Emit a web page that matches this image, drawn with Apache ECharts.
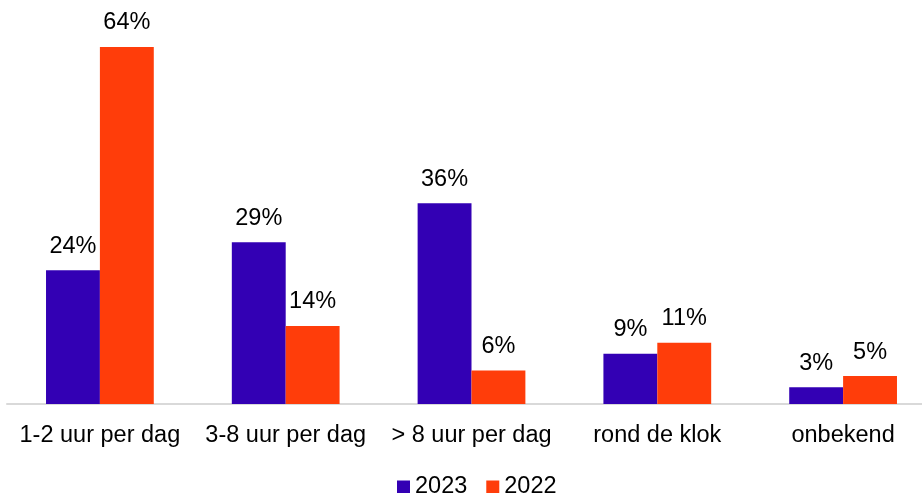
<!DOCTYPE html>
<html>
<head>
<meta charset="utf-8">
<script src="https://cdn.jsdelivr.net/npm/echarts@6/dist/echarts.min.js"></script>
<style>
  html, body { margin: 0; padding: 0; background: #fff; }
  #chart { width: 922px; height: 493px; }
</style>
</head>
<body>
<div id="chart"></div>
<script>
const categories = ['1-2 uur per dag', '3-8 uur per dag', '> 8 uur per dag', 'rond de klok', 'onbekend'];
const values2023 = [24, 29, 36, 9, 3];
const values2022 = [64, 14, 6, 11, 5];

const chart = echarts.init(document.getElementById('chart'), null, { renderer: 'canvas' });
const font = 'Liberation Sans, Arial, sans-serif';
const fs = 23.5;

const labelStyle = {
  show: true,
  position: 'top',
  distance: 12,
  formatter: '{c}%',
  fontFamily: font,
  fontSize: fs,
  color: '#000'
};

chart.setOption({
  animation: false,
  // plot area runs past the right edge of the canvas
  grid: { left: 7, width: 929, top: 47, height: 357, containLabel: false, outerBoundsMode: 'none' },
  legend: {
    data: ['2023', '2022'],
    left: 392,
    top: 470,
    itemWidth: 13,
    itemHeight: 13,
    itemGap: 19,
    icon: 'rect',
    textStyle: { fontFamily: font, fontSize: fs, color: '#000' }
  },
  xAxis: {
    type: 'category',
    data: categories,
    axisLine: { show: true, lineStyle: { color: '#d9d9d9', width: 2 } },
    axisTick: { show: false },
    axisLabel: { margin: 20, fontFamily: font, fontSize: fs, color: '#000', interval: 0 }
  },
  yAxis: {
    type: 'value',
    min: 0,
    max: 64,
    show: false,
    splitLine: { show: false }
  },
  series: [
    {
      name: '2023',
      type: 'bar',
      data: values2023,
      barGap: '0%',
      barCategoryGap: '42%',
      itemStyle: { color: '#3300b4' },
      label: labelStyle
    },
    {
      name: '2022',
      type: 'bar',
      data: values2022,
      itemStyle: { color: '#ff3d0a' },
      label: labelStyle
    }
  ]
});
</script>
</body>
</html>
